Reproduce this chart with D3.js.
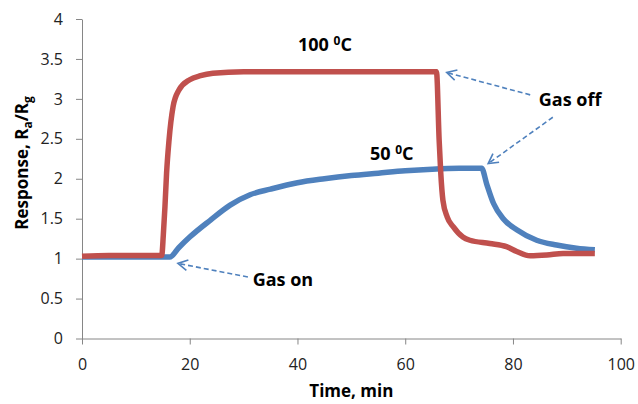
<!DOCTYPE html>
<html>
<head>
<meta charset="utf-8">
<script src="https://cdn.jsdelivr.net/npm/d3@7"></script>
<style>
    body { margin: 0; background: #fff; }
    text { font-family: "Open Sans", sans-serif; }
</style>
</head>
<body>
<div id="container"></div>
<script>
// time (min) and response readings, 100 C run
const redTime = [0, 5, 10, 14.8, 15.1, 15.4, 15.7, 16.15, 16.9, 18.0, 20.0, 22, 24.3, 30, 40, 50, 60, 65.8, 66.3, 66.6, 67.0, 67.8, 68.9, 70.7, 72, 75.7, 78.8, 80.7, 83.2, 86.3, 89.3, 95.2];
const redResp = [1.03, 1.04, 1.04, 1.04, 1.3, 1.65, 2.07, 2.48, 2.9, 3.11, 3.24, 3.29, 3.32, 3.34, 3.34, 3.34, 3.34, 3.34, 2.48, 2.07, 1.73, 1.52, 1.40, 1.27, 1.23, 1.19, 1.15, 1.09, 1.035, 1.045, 1.065, 1.065];

// 50 C run
const blueTime = [0, 5, 10, 15, 16.3, 18, 20, 23.8, 27.5, 31.2, 35, 40, 45, 50, 55, 60, 65, 70, 74.2, 75.1, 76.4, 78.2, 80.7, 84.4, 88.1, 91.8, 95.2];
const blueResp = [1.02, 1.02, 1.02, 1.02, 1.02, 1.14, 1.27, 1.48, 1.67, 1.80, 1.87, 1.95, 2.0, 2.04, 2.07, 2.10, 2.12, 2.13, 2.13, 1.94, 1.69, 1.50, 1.36, 1.23, 1.17, 1.13, 1.11];

const xTicks = [0, 20, 40, 60, 80, 100];
const yTicks = [0, 0.5, 1, 1.5, 2, 2.5, 3, 3.5, 4];

// annotation arrows: [tail t, tail v, tip t, tip v]
const arrows = [
    [30.8, 0.77, 17.8, 0.94],
    [83.2, 3.05, 67.7, 3.33],
    [87.4, 2.77, 75.4, 2.19]
];

const main = () => {
    const width = 638, height = 404;
    const margin = { left: 82, right: 17.3, top: 19, bottom: 65.5 };

    const svg = d3.select("#container")
        .append('svg')
        .attr('width', width)
        .attr('height', height);

    const xScale = d3.scaleLinear().domain([0, 100]).range([margin.left, width - margin.right]);
    const yScale = d3.scaleLinear().domain([0, 4]).range([height - margin.bottom, margin.top]);

    const xAxis = d3.axisBottom(xScale).tickValues(xTicks).tickSize(6).tickSizeOuter(0).tickPadding(14);
    const yAxis = d3.axisLeft(yScale).tickValues(yTicks).tickSize(6).tickSizeOuter(0).tickPadding(13)
        .tickFormat(d3.format(''));

    const xg = svg.append('g')
        .attr('transform', 'translate(0,' + yScale(0) + ')')
        .call(xAxis);
    const yg = svg.append('g')
        .attr('transform', 'translate(' + xScale(0) + ',0)')
        .call(yAxis);

    [xg, yg].forEach((g) => {
        g.selectAll('path, line').attr('stroke', '#868686');
        g.selectAll('text').attr('fill', '#222').style('font-size', '16px')
            .style('font-family', '"Open Sans", sans-serif');
    });

    // axis titles
    svg.append('text')
        .attr('x', xScale(50))
        .attr('y', 397)
        .attr('text-anchor', 'middle')
        .style('font-size', '17px')
        .style('font-weight', 'bold')
        .text('Time, min');

    const yt = svg.append('text')
        .attr('transform', 'translate(28,163) rotate(-90)')
        .attr('text-anchor', 'middle')
        .style('font-size', '17px')
        .style('font-weight', 'bold');
    yt.append('tspan').text('Response, R');
    yt.append('tspan').attr('dy', 4).style('font-size', '12px').text('a');
    yt.append('tspan').attr('dy', -4).text('/R');
    yt.append('tspan').attr('dy', 4).style('font-size', '12px').text('g');

    const lineMaker = d3.line()
        .x((d) => xScale(d[0]))
        .y((d) => yScale(d[1]))
        .curve(d3.curveMonotoneX);

    const blueData = blueTime.map((t, i) => [t, blueResp[i]]);
    const redData = redTime.map((t, i) => [t, redResp[i]]);

    svg.append('path')
        .datum(blueData)
        .attr('d', lineMaker)
        .attr('stroke', '#4F81BD')
        .attr('stroke-width', 5.5)
        .style('fill', 'none');

    svg.append('path')
        .datum(redData)
        .attr('d', lineMaker)
        .attr('stroke', '#C0504D')
        .attr('stroke-width', 5.5)
        .style('fill', 'none');

    // dashed arrows
    arrows.forEach((a) => {
        const x1 = xScale(a[0]), y1 = yScale(a[1]);
        const x2 = xScale(a[2]), y2 = yScale(a[3]);
        svg.append('line')
            .attr('x1', x1).attr('y1', y1)
            .attr('x2', x2).attr('y2', y2)
            .attr('stroke', '#4F81BD')
            .attr('stroke-width', 1.6)
            .attr('stroke-dasharray', '5,3');
        const ang = Math.atan2(y2 - y1, x2 - x1);
        const len = 11, spread = 0.5;
        const p = [
            [x2 - len * Math.cos(ang - spread), y2 - len * Math.sin(ang - spread)],
            [x2, y2],
            [x2 - len * Math.cos(ang + spread), y2 - len * Math.sin(ang + spread)]
        ];
        svg.append('path')
            .attr('d', d3.line()(p))
            .attr('stroke', '#4F81BD')
            .attr('stroke-width', 1.6)
            .style('fill', 'none');
    });

    // labels
    const label = (t, v, parts) => {
        const txt = svg.append('text')
            .attr('x', xScale(t))
            .attr('y', yScale(v))
            .attr('text-anchor', 'middle')
            .style('font-size', '18px')
            .style('font-weight', 'bold');
        parts.forEach((p) => {
            const ts = txt.append('tspan').text(p[0]);
            if (p[1] === 'up') ts.attr('dy', -6).style('font-size', '12px');
            if (p[1] === 'down') ts.attr('dy', 6);
        });
    };
    label(45.1, 3.6, [['100 '], ['0', 'up'], ['C', 'down']]);
    label(57.5, 2.23, [['50 '], ['0', 'up'], ['C', 'down']]);
    label(90.6, 2.91, [['Gas off']]);
    label(37.3, 0.66, [['Gas on']]);
};

main();
</script>
</body>
</html>
